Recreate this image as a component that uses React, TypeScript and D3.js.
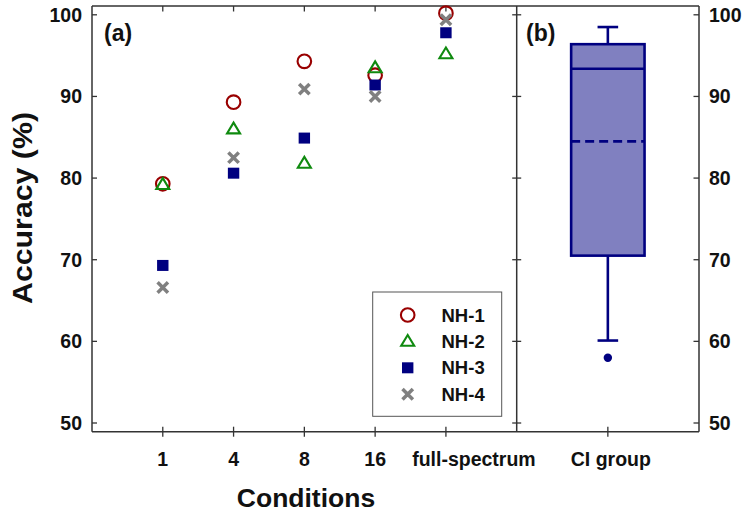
import React from "react";
import * as d3 from "d3";

const conditions = ["1", "4", "8", "16", "full-spectrum"];
const nh1 = [79.3, 89.3, 94.3, 92.6, 100.2];
const nh2 = [79.2, 86.0, 81.8, 93.5, 95.2];
const nh3 = [69.3, 80.6, 84.9, 91.4, 97.8];
const nh4 = [66.6, 82.5, 90.9, 90.0, 99.4];
const seriesNames = ["NH-1", "NH-2", "NH-3", "NH-4"];
const yTicks = [50, 60, 70, 80, 90, 100];
const ciBox = { low: 60.1, q1: 70.5, median: 93.4, mean: 84.5, q3: 96.4, high: 98.5 };
const ciOutliers = [58.0];
const ciLabel = "CI group";

const W = 750;
const H = 516;
const FONT = "'Liberation Sans', Arial, Helvetica, sans-serif";
const AX = "#333";

const colors = ["#990000", "#0f8a0f", "#000080", "#808080"];

function Marker({ kind, x, y }: { kind: number; x: number; y: number }) {
  if (kind === 0)
    return <circle cx={x} cy={y} r={6.8} fill="none" stroke={colors[0]} strokeWidth={2.1} />;
  if (kind === 1) {
    const s = 6.5;
    const h = 10.8;
    return (
      <path
        d={`M${x},${y - h * 0.6} L${x + s},${y + h * 0.4} L${x - s},${y + h * 0.4} Z`}
        fill="none"
        stroke={colors[1]}
        strokeWidth={2.1}
        strokeLinejoin="miter"
      />
    );
  }
  if (kind === 2) return <rect x={x - 5.7} y={y - 5.5} width={11.4} height={11} fill={colors[2]} />;
  const a = 5.2;
  return (
    <path
      d={`M${x - a},${y - a} L${x + a},${y + a} M${x - a},${y + a} L${x + a},${y - a}`}
      stroke={colors[3]}
      strokeWidth={3.5}
    />
  );
}

export default function App() {
  const top = 6;
  const bottom = 431.7;
  const left = 92;
  const mid = 516.7;
  const right = 699;

  const y = d3.scaleLinear().domain([50, 100]).range([423, 14.8]);
  const xA = d3.scaleLinear().domain([0, conditions.length + 1]).range([left, mid]);
  const xB = d3.scaleBand().domain([ciLabel]).range([mid, right]);
  const cx = (xB(ciLabel) as number) + xB.bandwidth() / 2;

  const series = [nh1, nh2, nh3, nh4];
  const labelDx = [0, 0, 0, 0, 28];

  const boxHalf = 36.7;
  const capHalf = 10.3;

  return (
    <svg
      width={W}
      height={H}
      style={{ position: "absolute", left: 0, top: 0, background: "#fff" }}
      fontFamily={FONT}
    >
      {/* panel frames */}
      <g stroke={AX} strokeWidth={1.5} fill="none">
        <line x1={left} y1={top} x2={right} y2={top} />
        <line x1={left} y1={bottom} x2={right} y2={bottom} />
        <line x1={left} y1={top} x2={left} y2={bottom} />
        <line x1={mid} y1={top} x2={mid} y2={bottom} />
        <line x1={right} y1={top} x2={right} y2={bottom} />
      </g>

      {/* ticks */}
      <g stroke={AX} strokeWidth={1.3}>
        {yTicks.map((t) => (
          <line key={"la" + t} x1={left} x2={left + 5} y1={y(t)} y2={y(t)} />
        ))}
        {yTicks.map((t) => (
          <line key={"lb" + t} x1={mid - 4.5} x2={mid + 4.5} y1={y(t)} y2={y(t)} />
        ))}
        {yTicks.map((t) => (
          <line key={"rb" + t} x1={right - 5.5} x2={right} y1={y(t)} y2={y(t)} />
        ))}
        {conditions.map((c, i) => (
          <g key={"xt" + c}>
            <line x1={xA(i + 1)} x2={xA(i + 1)} y1={top} y2={top + 5.5} />
            <line x1={xA(i + 1)} x2={xA(i + 1)} y1={bottom - 5} y2={bottom + 5} />
          </g>
        ))}
        <line x1={cx} x2={cx} y1={bottom - 5} y2={bottom + 5} />
      </g>

      {/* tick labels */}
      <g fontSize={19.5} fontWeight="bold" fill="#111">
        {yTicks.map((t) => (
          <text key={"yl" + t} x={82} y={y(t)} dy="0.36em" textAnchor="end">
            {t}
          </text>
        ))}
        {yTicks.map((t) => (
          <text key={"yr" + t} x={709} y={y(t)} dy="0.36em" textAnchor="start">
            {t}
          </text>
        ))}
        {conditions.map((c, i) => (
          <text key={"xl" + c} x={xA(i + 1) + labelDx[i]} y={466} textAnchor="middle">
            {c}
          </text>
        ))}
        <text x={cx + 3} y={466} textAnchor="middle">
          {ciLabel}
        </text>
      </g>

      {/* axis titles */}
      <text x={306} y={507} textAnchor="middle" fontSize={26.5} fontWeight="bold" fill="#111">
        Conditions
      </text>
      <text
        transform={`translate(32,208) rotate(-90)`}
        textAnchor="middle"
        fontSize={27}
        fontWeight="bold"
        fill="#111"
        textLength={192}
        lengthAdjust="spacingAndGlyphs"
      >
        Accuracy (%)
      </text>

      {/* panel labels */}
      <text x={104} y={41} fontSize={23} fontWeight="bold" fill="#111">
        (a)
      </text>
      <text x={526} y={41} fontSize={23} fontWeight="bold" fill="#111">
        (b)
      </text>

      {/* scatter points */}
      {series.map((s, k) => (
        <g key={"s" + k}>
          {s.map((v, i) => (
            <Marker key={i} kind={k} x={xA(i + 1)} y={y(v)} />
          ))}
        </g>
      ))}

      {/* legend */}
      <rect x={372.7} y={292} width={129} height={124.3} fill="#fff" stroke="#555" strokeWidth={1} />
      {seriesNames.map((n, k) => {
        const ly = 315 + k * 26.4;
        return (
          <g key={n}>
            <Marker kind={k} x={407.7} y={ly} />
            <text x={441.5} y={ly} dy="0.36em" fontSize={18.5} fontWeight="bold" fill="#111">
              {n}
            </text>
          </g>
        );
      })}

      {/* box plot */}
      <g stroke="#000080" strokeWidth={2.6}>
        <line x1={cx} x2={cx} y1={y(ciBox.high)} y2={y(ciBox.q3)} />
        <line x1={cx} x2={cx} y1={y(ciBox.q1)} y2={y(ciBox.low)} />
        <line x1={cx - capHalf} x2={cx + capHalf} y1={y(ciBox.high)} y2={y(ciBox.high)} />
        <line x1={cx - capHalf} x2={cx + capHalf} y1={y(ciBox.low)} y2={y(ciBox.low)} />
        <rect
          x={cx - boxHalf}
          y={y(ciBox.q3)}
          width={boxHalf * 2}
          height={y(ciBox.q1) - y(ciBox.q3)}
          fill="#8080c0"
        />
        <line x1={cx - boxHalf} x2={cx + boxHalf} y1={y(ciBox.median)} y2={y(ciBox.median)} />
        <line
          x1={cx - boxHalf}
          x2={cx + boxHalf}
          y1={y(ciBox.mean)}
          y2={y(ciBox.mean)}
          strokeDasharray="9,5"
        />
      </g>
      {ciOutliers.map((o, i) => (
        <circle key={i} cx={cx} cy={y(o)} r={4.2} fill="#000080" />
      ))}
    </svg>
  );
}
